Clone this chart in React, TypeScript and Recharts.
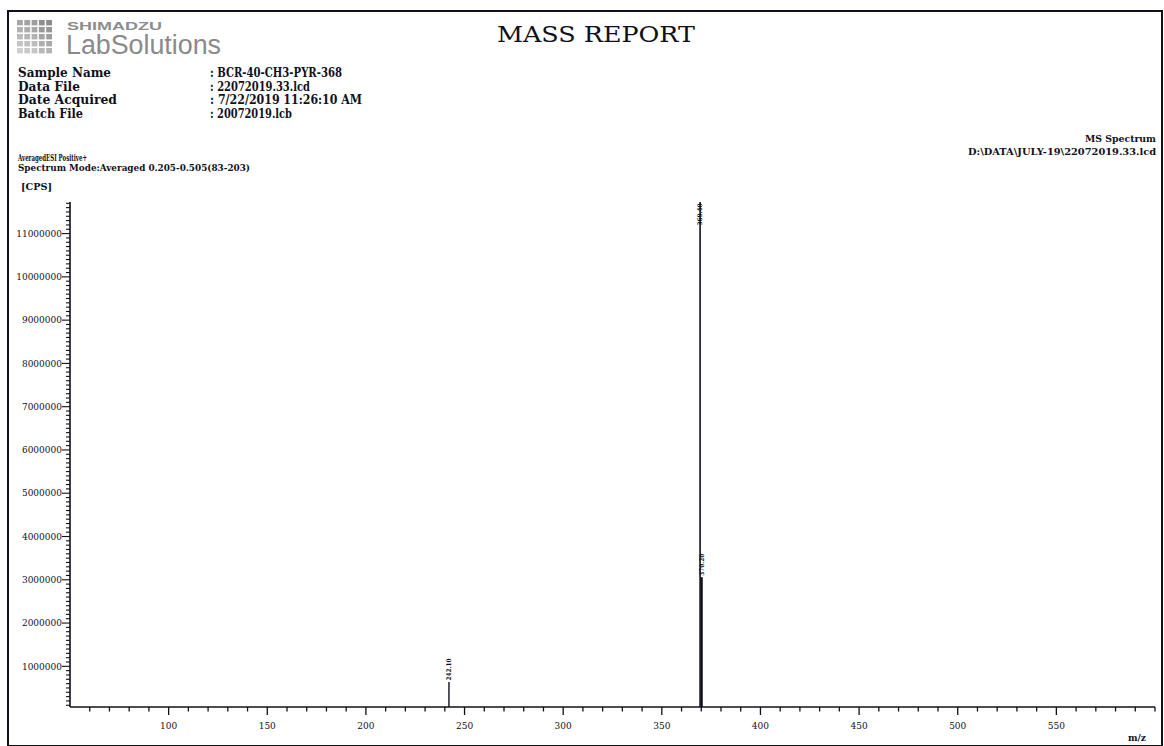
import { ComposedChart, Line, XAxis, YAxis } from "recharts";

// Peak list of the averaged spectrum (m/z, intensity in CPS)
const peakMz = [242.1, 369.4, 370.2];
const peakCps = [640000, 11730000, 3060000];
const peakLabels = ["242.10", "369.40", "370.20"];
const peakWidths = [1.4, 1.6, 2.2];

// Axis ticks
const mzMajorTicks = [100, 150, 200, 250, 300, 350, 400, 450, 500, 550];
const mzMinorTicks = Array.from({ length: 55 }, (_, i) => 60 + i * 10);
const cpsMajorTicks = [
  1000000, 2000000, 3000000, 4000000, 5000000, 6000000, 7000000, 8000000, 9000000, 10000000,
  11000000,
];
const cpsMinorTicks = Array.from({ length: 117 }, (_, i) => (i + 1) * 100000);

const mzDomain = [50, 600];
const cpsDomain = [60000, 11730000];

const ink = "#10101c";
const serif = "'DejaVu Serif', 'Liberation Serif', serif";
const sans = "'Liberation Sans', Arial, sans-serif";

const PLOT_TOP = 202;

function MzTick(props: any) {
  const { x, y, payload } = props;
  const major = mzMajorTicks.includes(payload.value);
  return (
    <g>
      <line x1={x} y1={y} x2={x} y2={y + (major ? 8 : 4.5)} stroke={ink} strokeWidth={1.3} />
      {major && (
        <text x={x} y={y + 22} textAnchor="middle" fontFamily={serif} fontSize={9} fill={ink}>
          {payload.value}
        </text>
      )}
    </g>
  );
}

function CpsTick(props: any) {
  const { x, y, payload } = props;
  const major = cpsMajorTicks.includes(payload.value);
  return (
    <g>
      <line x1={x} y1={y} x2={x - (major ? 8 : 4)} y2={y} stroke={ink} strokeWidth={1.1} />
      {major && (
        <text x={x - 8} y={y + 3.2} textAnchor="end" fontFamily={serif} fontSize={9} fill={ink}>
          {payload.value}
        </text>
      )}
    </g>
  );
}

const peakLabel = (text: string) => (props: any) => {
  const px = props.x ?? props.viewBox?.x;
  const py = props.y ?? props.viewBox?.y;
  if (props.index !== 1 || px == null || py == null) return null;
  // peaks running into the top of the frame get their label inside
  const inside = py - 26 < PLOT_TOP;
  const ay = inside ? py + 1.5 : py - 1.5;
  return (
    <text
      x={px}
      y={ay}
      dy="0.35em"
      transform={`rotate(-90 ${px} ${ay})`}
      textAnchor={inside ? "end" : "start"}
      fontFamily={serif}
      fontSize={6.5}
      fontWeight="bold"
      textLength={22}
      lengthAdjust="spacingAndGlyphs"
      fill={ink}
    >
      {text}
    </text>
  );
};

function LogoGrid() {
  const cells = [];
  for (let r = 0; r < 5; r++) {
    for (let c = 0; c < 5; c++) {
      const shade = 150 + (4 - c) * 4 + r * 10 - (c > 2 ? 10 : 0);
      cells.push(
        <rect
          key={`${r}-${c}`}
          x={17 + c * 7.3}
          y={20 + r * 7}
          width={5.8}
          height={5.4}
          fill={`rgb(${shade},${shade},${shade})`}
        />
      );
    }
  }
  return <g>{cells}</g>;
}

function Header() {
  const rows = [
    ["Sample Name", ": BCR-40-CH3-PYR-368", 93, 132],
    ["Data File", ": 22072019.33.lcd", 62, 100],
    ["Date Acquired", ": 7/22/2019 11:26:10 AM", 99, 152],
    ["Batch File", ": 20072019.lcb", 65, 82],
  ] as const;
  return (
    <svg
      width={1164}
      height={746}
      style={{ position: "absolute", left: 0, top: 0 }}
    >
      <LogoGrid />
      <text
        x={67}
        y={30}
        fontFamily={sans}
        fontWeight="bold"
        fontSize={11}
        textLength={95}
        lengthAdjust="spacingAndGlyphs"
        fill="#8d8d8d"
      >
        SHIMADZU
      </text>
      <text
        x={66}
        y={54}
        fontFamily={sans}
        fontSize={27}
        textLength={155}
        lengthAdjust="spacingAndGlyphs"
        fill="#8a8a8a"
      >
        LabSolutions
      </text>
      <text
        x={497}
        y={42}
        fontFamily={serif}
        fontSize={23}
        textLength={198}
        lengthAdjust="spacingAndGlyphs"
        fill={ink}
      >
        MASS REPORT
      </text>
      {rows.map(([k, v, kw, vw], i) => (
        <g key={k} fontFamily={serif} fontWeight="bold" fontSize={13} fill={ink}>
          <text x={18} y={77 + i * 13.6} textLength={kw} lengthAdjust="spacingAndGlyphs">
            {k}
          </text>
          <text x={210} y={77 + i * 13.6} textLength={vw} lengthAdjust="spacingAndGlyphs">
            {v}
          </text>
        </g>
      ))}
      <g fontFamily={serif} fontWeight="bold" fontSize={8.5} fill={ink}>
        <text x={1156} y={142} textAnchor="end" textLength={71} lengthAdjust="spacingAndGlyphs">
          MS Spectrum
        </text>
        <text x={1156} y={155} textAnchor="end" textLength={188} lengthAdjust="spacingAndGlyphs">
          D:\DATA\JULY-19\22072019.33.lcd
        </text>
        <text x={18} y={161} textLength={69} lengthAdjust="spacingAndGlyphs">
          AveragedESI Positive+
        </text>
        <text x={18} y={171} textLength={232} lengthAdjust="spacingAndGlyphs">
          Spectrum Mode:Averaged 0.205-0.505(83-203)
        </text>
        <text x={21} y={190} fontSize={10} textLength={31} lengthAdjust="spacingAndGlyphs">
          [CPS]
        </text>
        <text x={1128} y={741} textLength={18} lengthAdjust="spacingAndGlyphs">
          m/z
        </text>
      </g>
    </svg>
  );
}

export default function App() {
  return (
    <div
      style={{
        position: "absolute",
        left: 0,
        top: 0,
        width: 1164,
        height: 746,
        background: "#fff",
        overflow: "hidden",
      }}
    >
      <div
        style={{
          position: "absolute",
          left: 7,
          top: 10,
          width: 1152,
          height: 733,
          border: `2.5px solid ${ink}`,
        }}
      />
      <Header />
      <div style={{ position: "absolute", left: 0, top: 0 }}>
        <ComposedChart
          width={1164}
          height={746}
          margin={{ top: PLOT_TOP, right: 9, bottom: 9, left: 10 }}
        >
          <XAxis
            dataKey="mz"
            type="number"
            domain={mzDomain}
            allowDataOverflow
            ticks={mzMinorTicks}
            interval={0}
            tick={<MzTick />}
            tickSize={0}
            tickMargin={0}
            tickLine={false}
            height={30}
            axisLine={{ stroke: ink, strokeWidth: 1.6 }}
          />
          <XAxis
            xAxisId="top"
            orientation="top"
            type="number"
            domain={mzDomain}
            height={0}
            tick={false}
            tickLine={false}
            axisLine={{ stroke: ink, strokeWidth: 1.6 }}
          />
          <YAxis
            type="number"
            domain={cpsDomain}
            allowDataOverflow
            ticks={cpsMinorTicks}
            interval={0}
            tick={<CpsTick />}
            tickSize={0}
            tickMargin={0}
            tickLine={false}
            width={60}
            axisLine={{ stroke: ink, strokeWidth: 1.6 }}
          />
          <YAxis
            yAxisId="right"
            orientation="right"
            type="number"
            domain={[0, 1]}
            width={0}
            tick={false}
            tickLine={false}
            axisLine={{ stroke: ink, strokeWidth: 1.6 }}
          />
          {peakMz.map((mz, i) => (
            <Line
              key={mz}
              data={[
                { mz, cps: 0 },
                { mz, cps: peakCps[i] },
              ]}
              dataKey="cps"
              type="linear"
              stroke={ink}
              strokeWidth={peakWidths[i]}
              dot={false}
              activeDot={false}
              label={peakLabel(peakLabels[i])}
              isAnimationActive={false}
            />
          ))}
        </ComposedChart>
      </div>
    </div>
  );
}
